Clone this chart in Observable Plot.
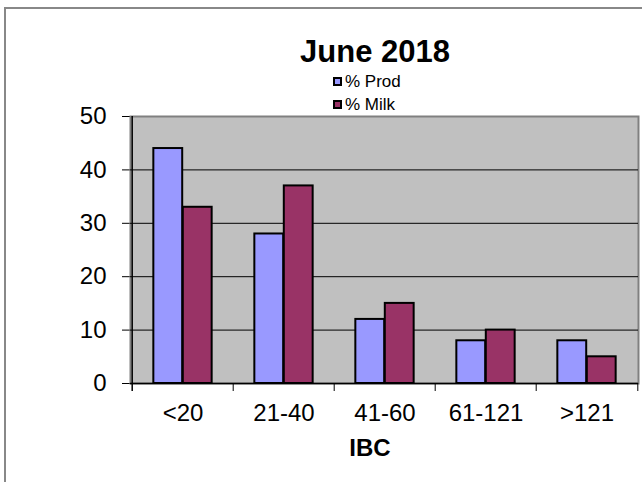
<!DOCTYPE html>
<html>
<head>
<meta charset="utf-8">
<script src="https://cdn.jsdelivr.net/npm/d3@7"></script>
<script src="https://cdn.jsdelivr.net/npm/@observablehq/plot@0.6"></script>
<style>
  html, body { margin: 0; padding: 0; background: #fff; overflow: hidden; }
  body { width: 642px; height: 482px; position: relative; font-family: "Liberation Sans", Arial, sans-serif; }
  #chart { position: absolute; left: 0; top: 0; }
  #border { position: absolute; left: 4px; top: 7px; width: 700px; height: 600px; border: 2px solid #888; box-sizing: border-box; }
  .title { position: absolute; left: 275px; width: 200px; top: 36px; text-align: center; font-weight: bold; font-size: 31px; line-height: 31px; }
  .legend-row { position: absolute; left: 333px; font-size: 17px; line-height: 17px; white-space: nowrap; }
  .legend-row .sw { display: inline-block; width: 5px; height: 5px; border: 2px solid #000; margin-right: 3px; vertical-align: 1px; }
  .xlabel { position: absolute; left: 320px; width: 100px; top: 436px; text-align: center; font-weight: bold; font-size: 24px; line-height: 24px; }
</style>
</head>
<body>
<div id="chart"></div>
<div id="border"></div>
<div id="title" class="title"></div>
<div id="legend"></div>
<div id="xlabel" class="xlabel"></div>
<script>
const titleText = "June 2018";
const xAxisTitle = "IBC";
const categories = ["<20", "21-40", "41-60", "61-121", ">121"];
const prod = [44, 28, 12, 8, 8];
const milk = [33, 37, 15, 10, 5];
const yTicks = [0, 10, 20, 30, 40, 50];
const gridValues = [10, 20, 30, 40];
const seriesNames = ["% Prod", "% Milk"];
const seriesColors = ["#9999FF", "#993366"];

const rows = categories.map((c, i) => ({cat: c, prod: prod[i], milk: milk[i]}));

const W = 642, H = 482, ML = 130, MR = 4, MT = 116, MB = 99;
const half = (W - ML - MR) / categories.length / 2;
const outerInset = half * 0.42;

const plot = Plot.plot({
  width: W,
  height: H,
  marginLeft: ML,
  marginRight: MR,
  marginTop: MT,
  marginBottom: MB,
  style: {background: "transparent", color: "#000", fontSize: "24px", fontFamily: "'Liberation Sans', Arial, sans-serif"},
  x: {domain: categories, padding: 0, tickSize: 0, tickPadding: 20, label: null},
  y: {domain: [0, 50], ticks: yTicks, tickSize: 8, tickPadding: 16, label: null, tickFormat: d => d},
  marks: [
    Plot.frame({fill: "#C0C0C0", stroke: "#808080", strokeWidth: 2}),
    Plot.ruleY(gridValues, {stroke: "#000", strokeWidth: 1}),
    Plot.barY(rows, {x: "cat", y: "prod", fill: seriesColors[0], stroke: "#000", strokeWidth: 2,
      insetLeft: outerInset, insetRight: half}),
    Plot.barY(rows, {x: "cat", y: "milk", fill: seriesColors[1], stroke: "#000", strokeWidth: 2,
      insetLeft: half, insetRight: outerInset}),
    Plot.ruleY([0], {stroke: "#000", strokeWidth: 1.5}),
    // category boundary ticks
    Plot.ruleX(categories.slice(1), {x: d => d, y1: 0, y2: 0, dx: -half, insetBottom: -8, stroke: "#000"}),
    Plot.ruleX(categories.slice(-1), {x: d => d, y1: 0, y2: 0, dx: half, insetBottom: -8, stroke: "#000"}),
    // left axis line
    Plot.ruleX(categories.slice(0, 1), {x: d => d, y1: 50, y2: 0, dx: -half, insetBottom: -8, stroke: "#000", strokeWidth: 1.5})
  ]
});
document.getElementById("chart").appendChild(plot);

document.getElementById("title").textContent = titleText;
document.getElementById("xlabel").textContent = xAxisTitle;
const legend = document.getElementById("legend");
seriesNames.forEach((name, i) => {
  const row = document.createElement("div");
  row.className = "legend-row";
  row.style.top = (73 + i * 23) + "px";
  const sw = document.createElement("span");
  sw.className = "sw";
  sw.style.background = seriesColors[i];
  row.appendChild(sw);
  row.appendChild(document.createTextNode(name));
  legend.appendChild(row);
});
</script>
</body>
</html>
